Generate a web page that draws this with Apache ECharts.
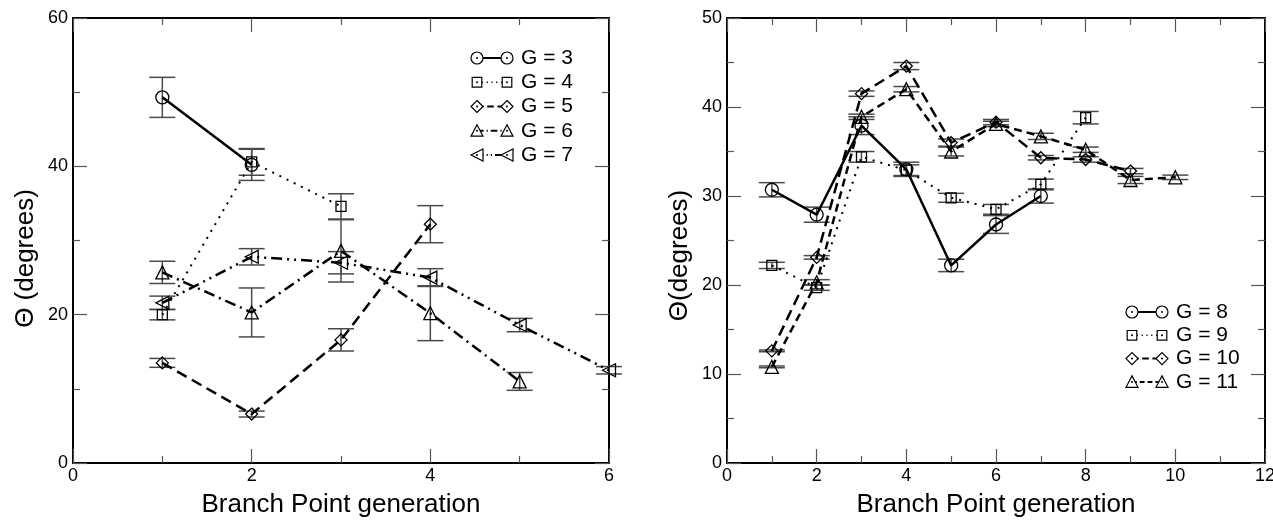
<!DOCTYPE html>
<html><head><meta charset="utf-8">
<script src="https://cdn.jsdelivr.net/npm/echarts@6/dist/echarts.min.js"></script>
<style>html,body{margin:0;padding:0;background:#fff}#c{width:1273px;height:525px}</style>
</head><body><div id="c"></div>
<script>
// ---- Left panel data (generation, theta, error) ----
const genLeft = [1, 2, 3, 4, 5, 6];
const g3 = [49.3, 40.2];                 const g3e = [2.7, 2.1];
const g4 = [20.0, 40.6, 34.6];           const g4e = [0.7, 1.8, 1.7];
const g5 = [13.5, 6.6, 16.6, 32.2];      const g5e = [0.6, 0.4, 1.5, 2.5];
const g6 = [25.7, 20.3, 28.6, 20.2, 11.0]; const g6e = [1.5, 3.3, 4.2, 3.7, 1.2];
const g7 = [21.6, 27.8, 27.0, 25.0, 18.6, 12.5]; const g7e = [0.9, 1.1, 1.5, 1.2, 0.9, 0.5];
// ---- Right panel data ----
const genRight = [1, 2, 3, 4, 5, 6, 7, 8, 9, 10];
const g8 = [30.7, 27.9, 37.9, 33.0, 22.2, 26.8, 30.0];            const g8e = [0.8, 0.85, 1.0, 0.8, 0.7, 1.0, 0.8];
const g9 = [22.2, 19.7, 34.4, 32.9, 29.8, 28.5, 31.3, 38.8];      const g9e = [0.35, 0.3, 0.6, 0.6, 0.5, 0.55, 0.6, 0.7];
const g10 = [12.6, 23.1, 41.5, 44.6, 36.0, 38.3, 34.3, 34.1, 32.8]; const g10e = [0.1, 0.2, 0.3, 0.4, 0.4, 0.3, 0.25, 0.3, 0.3];
const g11 = [10.8, 20.3, 38.9, 42.0, 35.0, 38.1, 36.7, 35.2, 31.8, 32.1]; const g11e = [0.1, 0.3, 0.3, 0.3, 0.5, 0.3, 0.35, 0.3, 0.4, 0.25];
// ---- Axis tick settings ----
const leftXTicks = {min: 0, max: 6, interval: 2};
const leftYTicks = {min: 0, max: 60, interval: 20};
const rightXTicks = {min: 0, max: 12, interval: 2};
const rightYTicks = {min: 0, max: 50, interval: 10};
const xTitle = 'Branch Point generation';
const yTitleLeft = 'Θ (degrees)';
const yTitleRight = 'Θ(degrees)';

const FONT = '"Liberation Sans", Arial, Helvetica, sans-serif';
const DOT = [2, 6], DASH = [11, 6], DASHDOT = [11, 5, 2, 5], DASHDOTDOT = [11, 5, 2, 5, 2, 5], DASH2 = [8, 5];

const seriesDefs = [
  {name: 'G = 3', grid: 0, x: genLeft, y: g3, e: g3e, symbol: 'circle', size: 13, rot: 0, dash: 'solid', w: 2.5},
  {name: 'G = 4', grid: 0, x: genLeft, y: g4, e: g4e, symbol: 'rect', size: 10, rot: 0, dash: DOT, w: 2},
  {name: 'G = 5', grid: 0, x: genLeft, y: g5, e: g5e, symbol: 'diamond', size: 12, rot: 0, dash: DASH, w: 2.5},
  {name: 'G = 6', grid: 0, x: genLeft, y: g6, e: g6e, symbol: 'triangle', size: 13, rot: 0, dash: DASHDOT, w: 2.5},
  {name: 'G = 7', grid: 0, x: genLeft, y: g7, e: g7e, symbol: 'triangle', size: 13, rot: 90, dash: DASHDOTDOT, w: 2.5},
  {name: 'G = 8', grid: 1, x: genRight, y: g8, e: g8e, symbol: 'circle', size: 13, rot: 0, dash: 'solid', w: 2.5},
  {name: 'G = 9', grid: 1, x: genRight, y: g9, e: g9e, symbol: 'rect', size: 10, rot: 0, dash: DOT, w: 2},
  {name: 'G = 10', grid: 1, x: genRight, y: g10, e: g10e, symbol: 'diamond', size: 12, rot: 0, dash: DASH, w: 2.5},
  {name: 'G = 11', grid: 1, x: genRight, y: g11, e: g11e, symbol: 'triangle', size: 13, rot: 0, dash: DASH2, w: 2.5}
];

function axisX(gridIndex, t, pos, showLabel, name) {
  return Object.assign({
    type: 'value', gridIndex, position: pos,
    name: name || '', nameLocation: 'middle', nameGap: 29,
    nameTextStyle: {fontFamily: FONT, fontSize: 26, color: '#000'},
    axisLine: {show: true, onZero: false, lineStyle: {color: '#000', width: 2}},
    axisTick: {show: true, inside: true, length: 14, lineStyle: {color: '#555', width: 1.2}},
    minorTick: {show: true, splitNumber: 2, length: 7, lineStyle: {color: '#555', width: 1.2}},
    axisLabel: {show: showLabel, fontFamily: FONT, fontSize: 18, color: '#000', margin: 4},
    splitLine: {show: false}
  }, t);
}
function axisY(gridIndex, t, pos, showLabel, name, shift) {
  return Object.assign({
    type: 'value', gridIndex, position: pos,
    name: name || '', nameLocation: 'middle', nameGap: 34, nameRotate: 90,
    nameTextStyle: {fontFamily: FONT, fontSize: 26, color: '#000', padding: [0, shift || 0, 0, 0]},
    axisLine: {show: true, onZero: false, lineStyle: {color: '#000', width: 2}},
    axisTick: {show: true, inside: true, length: 14, lineStyle: {color: '#555', width: 1.2}},
    minorTick: {show: true, splitNumber: 2, length: 7, lineStyle: {color: '#555', width: 1.2}},
    axisLabel: {show: showLabel, fontFamily: FONT, fontSize: 18, color: '#000', margin: 5},
    splitLine: {show: false}
  }, t);
}

function errRender(params, api) {
  const x = api.value(0), lo = api.value(1), hi = api.value(2);
  const a = api.coord([x, hi]), b = api.coord([x, lo]);
  const hw = 13;
  const st = {stroke: '#4a4a4a', lineWidth: 1.5};
  return {type: 'group', children: [
    {type: 'line', shape: {x1: a[0], y1: a[1], x2: b[0], y2: b[1]}, style: st},
    {type: 'line', shape: {x1: a[0] - hw, y1: a[1], x2: a[0] + hw, y2: a[1]}, style: st},
    {type: 'line', shape: {x1: b[0] - hw, y1: b[1], x2: b[0] + hw, y2: b[1]}, style: st}
  ]};
}

const series = [];
[0, 1].forEach(gi => {
  const data = [];
  seriesDefs.filter(s => s.grid === gi).forEach(s => {
    s.y.forEach((v, i) => data.push([s.x[i], v - s.e[i], v + s.e[i]]));
  });
  series.push({type: 'custom', xAxisIndex: gi * 2, yAxisIndex: gi * 2, renderItem: errRender,
    encode: {x: 0, y: [1, 2]}, data, z: 1, silent: true, clip: false});
});
seriesDefs.forEach(s => {
  series.push({
    type: 'line', name: s.name, xAxisIndex: s.grid * 2, yAxisIndex: s.grid * 2,
    data: s.y.map((v, i) => [s.x[i], v]),
    symbol: s.symbol, symbolSize: s.size, symbolRotate: s.rot, showSymbol: true,
    itemStyle: {color: 'rgba(255,255,255,0)', borderColor: '#000', borderWidth: 1.3},
    lineStyle: {color: '#000', width: s.w, type: s.dash},
    emphasis: {disabled: true}, silent: true, z: 3, clip: false
  });
});

// ---- Legend drawn as graphics (symbol - line - symbol, label) ----
function symShape(kind, rot, cx, cy, r) {
  const st = {fill: '#fff', stroke: '#000', lineWidth: 1.2};
  if (kind === 'circle') return {type: 'circle', shape: {cx, cy, r}, style: st};
  if (kind === 'rect') return {type: 'rect', shape: {x: cx - r * 0.8, y: cy - r * 0.8, width: r * 1.6, height: r * 1.6}, style: st};
  if (kind === 'diamond') return {type: 'polygon', shape: {points: [[cx, cy - r], [cx + r, cy], [cx, cy + r], [cx - r, cy]]}, style: st};
  if (kind === 'triangle' && rot === 90) return {type: 'polygon', shape: {points: [[cx - r, cy], [cx + r, cy - r], [cx + r, cy + r]]}, style: st};
  return {type: 'polygon', shape: {points: [[cx, cy - r], [cx + r, cy + r * 0.9], [cx - r, cy + r * 0.9]]}, style: st};
}
function legendGraphics(defs, x0, y0, step) {
  const out = [];
  defs.forEach((s, i) => {
    const y = y0 + i * step;
    const ld = Array.isArray(s.dash) ? s.dash.map(d => d * 0.6) : null;
    out.push({type: 'line', shape: {x1: x0, y1: y, x2: x0 + 30, y2: y},
      style: {stroke: '#000', lineWidth: s.w * 0.8, lineDash: ld}, z: 10});
    out.push(Object.assign(symShape(s.symbol, s.rot, x0, y, 6), {z: 11}));
    out.push(Object.assign(symShape(s.symbol, s.rot, x0 + 30, y, 6), {z: 11}));
    out.push({type: 'circle', shape: {cx: x0, cy: y, r: 1}, style: {fill: '#000'}, z: 12});
    out.push({type: 'circle', shape: {cx: x0 + 30, cy: y, r: 1}, style: {fill: '#000'}, z: 12});
    out.push({type: 'text', x: x0 + 44, y: y, z: 12,
      style: {text: s.name, fontFamily: FONT, fontSize: 21, fill: '#000', verticalAlign: 'middle', align: 'left'}});
  });
  return out;
}

const chart = echarts.init(document.getElementById('c'), null, {renderer: 'canvas'});
chart.setOption({
  animation: false,
  backgroundColor: '#fff',
  grid: [
    {left: 73, right: 664, top: 18, bottom: 62, containLabel: false, outerBoundsMode: 'none'},
    {left: 727, right: 8, top: 18, bottom: 62, containLabel: false, outerBoundsMode: 'none'}
  ],
  xAxis: [
    axisX(0, leftXTicks, 'bottom', true, xTitle),
    axisX(0, leftXTicks, 'top', false),
    axisX(1, rightXTicks, 'bottom', true, xTitle),
    axisX(1, rightXTicks, 'top', false)
  ],
  yAxis: [
    axisY(0, leftYTicks, 'left', true, yTitleLeft, 36),
    axisY(0, leftYTicks, 'right', false),
    axisY(1, rightYTicks, 'left', true, yTitleRight, 30),
    axisY(1, rightYTicks, 'right', false)
  ],
  series,
  graphic: [].concat(
    legendGraphics(seriesDefs.filter(s => s.grid === 0), 477, 58, 24.25),
    legendGraphics(seriesDefs.filter(s => s.grid === 1), 1132, 312, 23.3)
  )
});
</script></body></html>
